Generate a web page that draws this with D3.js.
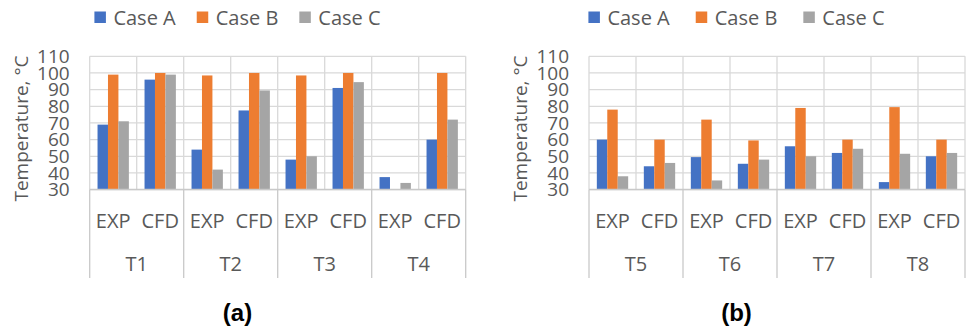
<!DOCTYPE html>
<html>
<head>
<meta charset="utf-8">
<script src="https://cdn.jsdelivr.net/npm/d3@7"></script>
<style>
  html, body { margin: 0; padding: 0; background: #fff; }
  svg { display: block; }
  text { font-family: "Open Sans", "Noto Sans", sans-serif; fill: #595959; }
</style>
</head>
<body>
<svg id="chart" width="967" height="332"></svg>
<script>
// Measured temperatures (°C) at thermocouples T1–T8, experiment vs. simulation
const groupsA = ["T1", "T2", "T3", "T4"];
const groupsB = ["T5", "T6", "T7", "T8"];
const methods = ["EXP", "CFD"];
const seriesNames = ["Case A", "Case B", "Case C"];
const seriesColors = ["#4472C4", "#ED7D31", "#A5A5A5"];

// One value per (group, method), in order T1-EXP, T1-CFD, T2-EXP, ...
const caseA = [69, 96, 54, 77.5, 48, 91, 37.5, 60, 60, 44, 49.5, 45.5, 56, 52, 34.5, 50];
const caseB = [99, 100, 98.5, 100, 98.5, 100, null, 100, 78, 60, 72, 59.5, 79, 60, 79.5, 60];
const caseC = [71, 99, 42, 89.5, 50, 94.5, 34, 72, 38, 46, 35.5, 48, 50, 54.5, 51.5, 52];

const yTicks = [30, 40, 50, 60, 70, 80, 90, 100, 110];
const yTitle = "Temperature, °C";
const panelLabels = ["(a)", "(b)"];

const svg = d3.select("#chart");
const seriesValues = [caseA, caseB, caseC];

function drawPanel(opts) {
  const { groups, offset, left, center, label, legendGap } = opts;
  const width = 376, top = 56.3, bottom = 189.6;
  const g = svg.append("g");

  const cats = [];
  groups.forEach(gr => methods.forEach(m => cats.push(gr + "|" + m)));

  const x = d3.scaleBand().domain(cats).range([left, left + width]).padding(0);
  const xs = d3.scaleBand().domain(seriesNames).range([0, x.bandwidth()])
    .paddingInner(0).paddingOuter(0.75);
  const xg = d3.scaleBand().domain(groups).range([left, left + width]).padding(0);
  const y = d3.scaleLinear().domain([30, 110]).range([bottom, top]);

  // horizontal gridlines
  g.append("g").selectAll("line").data(yTicks).join("line")
    .attr("x1", left).attr("x2", left + width)
    .attr("y1", d => y(d)).attr("y2", d => y(d))
    .attr("stroke", "#d9d9d9").attr("stroke-width", 1.3);

  // vertical gridlines at every category edge
  const edges = cats.map(c => x(c)).concat([left + width]);
  g.append("g").selectAll("line").data(edges).join("line")
    .attr("x1", d => d).attr("x2", d => d)
    .attr("y1", top).attr("y2", bottom)
    .attr("stroke", "#d9d9d9").attr("stroke-width", 1.3);

  // bars
  cats.forEach((c, ci) => {
    seriesNames.forEach((s, si) => {
      const v = seriesValues[si][offset + ci];
      if (v == null) return;
      g.append("rect")
        .attr("x", x(c) + xs(s))
        .attr("width", xs.bandwidth())
        .attr("y", y(v))
        .attr("height", y(30) - y(v))
        .attr("fill", seriesColors[si]);
    });
  });

  // category axis line and multi-level tick marks
  g.append("line").attr("x1", left).attr("x2", left + width)
    .attr("y1", bottom).attr("y2", bottom)
    .attr("stroke", "#c9c9c9").attr("stroke-width", 1.5);
  const groupEdges = groups.map(gr => xg(gr)).concat([left + width]);
  g.append("g").selectAll("line").data(groupEdges).join("line")
    .attr("x1", d => d).attr("x2", d => d)
    .attr("y1", bottom).attr("y2", 278)
    .attr("stroke", "#c9c9c9").attr("stroke-width", 1.3);

  // method labels
  g.append("g").selectAll("text").data(cats).join("text")
    .attr("x", d => x(d) + x.bandwidth() / 2)
    .attr("y", 228)
    .attr("text-anchor", "middle")
    .style("font-size", "20px")
    .text(d => d.split("|")[1]);

  // group labels
  g.append("g").selectAll("text").data(groups).join("text")
    .attr("x", d => xg(d) + xg.bandwidth() / 2)
    .attr("y", 271)
    .attr("text-anchor", "middle")
    .style("font-size", "20px")
    .text(d => d);

  // value axis labels
  g.append("g").selectAll("text").data(yTicks).join("text")
    .attr("x", left - 20)
    .attr("y", d => y(d))
    .attr("dy", "0.35em")
    .attr("text-anchor", "end")
    .style("font-size", "19px")
    .text(d => d);

  // value axis title
  g.append("text")
    .attr("transform", `translate(${left - 62},${128.5}) rotate(-90)`)
    .attr("text-anchor", "middle")
    .style("font-size", "19px")
    .text(yTitle);

  // legend, centred on the panel
  const leg = g.append("g");
  let cx = 0;
  const items = seriesNames.map((s, i) => {
    const it = leg.append("g").attr("transform", `translate(${cx},0)`);
    it.append("rect").attr("x", 0).attr("y", 11.5).attr("width", 11.5).attr("height", 11.5)
      .attr("fill", seriesColors[i]);
    const t = it.append("text").attr("x", 19).attr("y", 25).style("font-size", "20px").text(s);
    const w = 19 + t.node().getComputedTextLength();
    cx += w + (i < seriesNames.length - 1 ? legendGap : 0);
    return it;
  });
  leg.attr("transform", `translate(${center - cx / 2},0)`);

  // panel caption
  g.append("text")
    .attr("x", center).attr("y", 321)
    .attr("text-anchor", "middle")
    .style("font-family", "'Liberation Sans', Arial, sans-serif")
    .style("font-weight", "bold")
    .style("font-size", "24px")
    .style("fill", "#000")
    .text(label);
}

drawPanel({ groups: groupsA, offset: 0, left: 89.7, center: 237.5, label: panelLabels[0], legendGap: 21 });
drawPanel({ groups: groupsB, offset: 8, left: 589, center: 736.5, label: panelLabels[1], legendGap: 26 });
</script>
</body>
</html>
